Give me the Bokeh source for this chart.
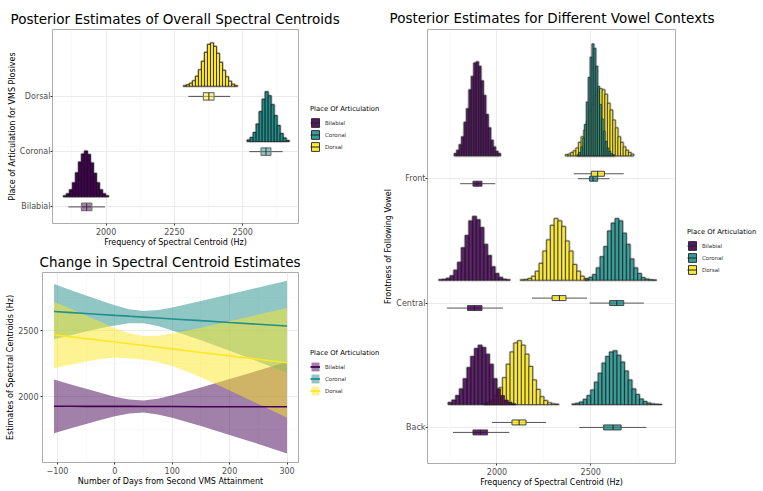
from bokeh.plotting import figure
from bokeh.models import ColumnDataSource, FixedTicker, Legend, LegendItem, Range1d, Label
from bokeh.layouts import row, column
from bokeh.embed import file_html
from bokeh.resources import INLINE

FONT = "DejaVu Sans"
places = ["Bilabial", "Coronal", "Dorsal"]
place_colors = ["#440154", "#21908C", "#FDE725"]

# ---------------- Panel 1: overall posterior (histogram heights in % of the panel's tallest bin)
overall_levels = [1, 2, 3]
overall_bilabial_start, overall_bilabial_width = 1844, 11
overall_bilabial_heights = [2, 6, 14, 28, 48, 70, 86, 92, 85, 68, 47, 28, 14, 6, 2]
overall_coronal_start, overall_coronal_width = 2516, 11
overall_coronal_heights = [3, 8, 18, 35, 60, 85, 100, 92, 74, 52, 32, 16, 7, 2]
overall_dorsal_start, overall_dorsal_width = 2283, 11
overall_dorsal_heights = [1, 3, 6, 11, 20, 33, 50, 68, 84, 87, 80, 66, 48, 32, 19, 10, 4, 1]
overall_box_low = [1862, 2524, 2301]
overall_box_q1 = [1910, 2567, 2356]
overall_box_median = [1929, 2585, 2376]
overall_box_q3 = [1948, 2603, 2395]
overall_box_high = [1996, 2646, 2454]

# ---------------- Panel 2: change over days
days = [-106, -75, -50, -25, 0, 25, 50, 75, 100, 150, 200, 250, 300]
bilabial_fit = [1927, 1927, 1926, 1926, 1926, 1926, 1925, 1925, 1925, 1924, 1924, 1923, 1923]
bilabial_lower = [1723, 1762, 1793, 1823, 1851, 1873, 1880, 1865, 1840, 1777, 1710, 1642, 1570]
bilabial_upper = [2131, 2091, 2060, 2029, 2000, 1978, 1971, 1985, 2010, 2070, 2133, 2198, 2265]
coronal_fit = [2645, 2637, 2630, 2623, 2616, 2610, 2603, 2596, 2589, 2576, 2562, 2549, 2535]
coronal_lower = [2436, 2468, 2494, 2518, 2540, 2557, 2557, 2535, 2502, 2427, 2348, 2265, 2180]
coronal_upper = [2854, 2805, 2766, 2728, 2692, 2662, 2649, 2657, 2676, 2725, 2776, 2827, 2878]
dorsal_fit = [2469, 2453, 2440, 2427, 2414, 2401, 2388, 2375, 2362, 2335, 2309, 2283, 2257]
dorsal_lower = [2216, 2243, 2266, 2286, 2296, 2290, 2282, 2262, 2232, 2147, 2047, 1944, 1840]
dorsal_upper = [2720, 2663, 2614, 2568, 2518, 2480, 2460, 2462, 2478, 2523, 2571, 2622, 2672]

# ---------------- Panel 3: vowel contexts (rows: Back=1, Central=2, Front=3)
vowel_rows = ["Back", "Central", "Front"]
back_bilabial_start, back_bilabial_width = 1740, 20
back_bilabial_heights = [1.9, 4, 8, 14, 23, 33, 43, 50, 53, 51, 45, 36, 23, 14, 8, 4, 2, 0.8]
back_coronal_start, back_coronal_width = 2400, 20
back_coronal_heights = [0.5, 1.1, 2.3, 4.6, 8, 13, 20, 28, 37, 43, 47, 48, 44, 38, 30, 22, 14, 9, 5, 2.7, 1.3, 0.6, 0.3, 0.1]
back_dorsal_start, back_dorsal_width = 1930, 20
back_dorsal_heights = [0.7, 1.8, 4, 8, 15, 24, 36, 47, 55, 57, 53, 45, 34, 22, 13.5, 7, 3.5, 1.5, 0.6, 0.3]
central_bilabial_start, central_bilabial_width = 1690, 20
central_bilabial_heights = [0.5, 0.8, 1.8, 4, 9, 16, 29, 40, 53, 57, 54, 47, 32, 22, 12, 6, 2.5, 0.9, 0.4]
central_coronal_start, central_coronal_width = 2470, 20
central_coronal_heights = [0.9, 2.5, 5, 11, 21, 30, 44, 51, 55, 53, 42, 32, 19, 11, 6, 2.3, 1, 0.4, 0.2]
central_dorsal_start, central_dorsal_width = 2125, 20
central_dorsal_heights = [0.3, 0.6, 1.5, 3.5, 8, 15, 26, 36, 49, 55, 53, 48, 35, 26, 14, 8, 3.5, 1.5]
front_bilabial_start, front_bilabial_width = 1772, 13
front_bilabial_heights = [2, 5, 10, 17, 30, 42, 59, 71, 83, 84, 80, 67, 54, 37, 25, 14, 8, 4, 2]
front_coronal_start, front_coronal_width = 2427, 10
front_coronal_heights = [1, 3, 8, 16, 28, 48, 70, 88, 100, 96, 80, 62, 46, 33, 22, 13, 7, 4, 2, 1]
front_dorsal_start, front_dorsal_width = 2365, 14
front_dorsal_heights = [1, 1.5, 3, 4.5, 7, 12, 17, 23, 31, 40, 46, 54, 57, 60, 59, 55, 47, 41, 32, 25, 17, 12, 8, 5, 3, 1.5]

bilabial_box_low = [1765, 1733, 1804]
bilabial_box_q1 = [1872, 1843, 1872]
bilabial_box_median = [1911, 1880, 1893]
bilabial_box_q3 = [1950, 1920, 1920]
bilabial_box_high = [2066, 2032, 1991]
coronal_box_low = [2439, 2494, 2432]
coronal_box_q1 = [2569, 2601, 2494]
coronal_box_median = [2619, 2639, 2512]
coronal_box_q3 = [2662, 2676, 2537]
coronal_box_high = [2797, 2783, 2600]
dorsal_box_low = [1973, 2187, 2409]
dorsal_box_q1 = [2080, 2294, 2503]
dorsal_box_median = [2118, 2333, 2537]
dorsal_box_q3 = [2155, 2368, 2573]
dorsal_box_high = [2262, 2480, 2676]

SLAB_SCALE = 0.9
SLAB_OFFSET = 0.184


def hist_data(parts):
    d = dict(left=[], right=[], bottom=[], top=[])
    for start, width, heights, level in parts:
        for i, h in enumerate(heights):
            d["left"].append(start + i * width)
            d["right"].append(start + (i + 1) * width)
            d["bottom"].append(level + SLAB_OFFSET)
            d["top"].append(level + SLAB_OFFSET + h / 100.0 * SLAB_SCALE)
    return d


def blank_fig(width, height):
    f = figure(width=width, height=height, output_backend="svg", toolbar_location=None,
               x_range=Range1d(0, width), y_range=Range1d(0, height),
               x_axis_type=None, y_axis_type=None,
               min_border_left=0, min_border_right=0, min_border_top=0, min_border_bottom=0)
    f.outline_line_color = None
    f.background_fill_color = "white"
    f.border_fill_color = "white"
    return f


def title_fig(width, height, text, x, y):
    f = blank_fig(width, height)
    f.add_layout(Label(x=x, y=y, text=text, text_font=FONT, text_font_size="13.5px",
                       text_color="black", text_align="left", text_baseline="middle"))
    return f


def legend_fig(width, height, kind, x, y):
    # key renderers sit outside the visible range, so only their legend keys show
    f = blank_fig(width, height)
    items = []
    for nm, col in zip(places, place_colors):
        if kind == "hist":
            r1 = f.quad(left=[-30], right=[-20], bottom=[-30], top=[-20], fill_color=col, fill_alpha=0.9,
                        line_color="#222222", line_width=0.9)
            r2 = f.segment(x0=[-30], x1=[-20], y0=[-25], y1=[-25], line_color="#222222", line_width=1)
        else:
            r1 = f.varea(x=[-30, -20], y1=[-30, -30], y2=[-20, -20], fill_color=col, fill_alpha=0.5)
            r2 = f.line(x=[-30, -20], y=[-25, -25], line_color=col, line_width=1.8)
        items.append(LegendItem(label=nm, renderers=[r1, r2]))
    lg = Legend(items=items, location=(x, y), title="Place Of Articulation",
                title_text_font=FONT, title_text_font_size="6.8px", title_text_font_style="normal",
                title_text_color="black", title_standoff=4,
                label_text_font=FONT, label_text_font_size="5.5px", label_text_color="#333333",
                glyph_width=10, glyph_height=11, label_height=11,
                label_width=10, label_standoff=5, spacing=1, padding=0, margin=0,
                border_line_color=None, background_fill_alpha=0)
    f.add_layout(lg)
    return f


def style_fig(p, xlabel, ylabel):
    p.background_fill_color = "white"
    p.border_fill_color = "white"
    p.outline_line_color = "#ababab"
    p.outline_line_width = 1
    for ax in (p.xaxis[0], p.yaxis[0]):
        ax.axis_line_color = None
        ax.major_tick_line_color = "#333333"
        ax.major_tick_out = 2
        ax.major_tick_in = 0
        ax.minor_tick_line_color = None
        ax.major_label_text_font = FONT
        ax.major_label_text_font_size = "8px"
        ax.major_label_text_color = "#4d4d4d"
        ax.major_label_standoff = 0
        ax.axis_label_text_font = FONT
        ax.axis_label_text_font_size = "8px"
        ax.axis_label_text_font_style = "normal"
        ax.axis_label_text_color = "black"
        ax.axis_label_standoff = 0
    p.xaxis.axis_label = xlabel
    p.yaxis.axis_label = ylabel
    for g in (p.xgrid[0], p.ygrid[0]):
        g.grid_line_color = "#ebebeb"
        g.grid_line_width = 1
        g.minor_grid_line_color = "#f5f5f5"
        g.minor_grid_line_width = 0.6


# ================= Figure 1 =================
p1 = figure(width=300, height=221, output_backend="svg", toolbar_location=None,
            x_range=Range1d(1804, 2704), y_range=Range1d(0.7, 4.21),
            min_border_left=52, min_border_right=2, min_border_top=1, min_border_bottom=21)
style_fig(p1, "Frequency of Spectral Centroid (Hz)", "Place of Articulation for VMS Plosives")
p1.xaxis.ticker = FixedTicker(ticks=[2000, 2250, 2500], minor_ticks=[1875, 2125, 2375, 2625])
p1.yaxis.ticker = FixedTicker(ticks=overall_levels)
p1.yaxis.major_label_overrides = {lv: nm for lv, nm in zip(overall_levels, places)}

overall_parts = [
    (overall_bilabial_start, overall_bilabial_width, overall_bilabial_heights),
    (overall_coronal_start, overall_coronal_width, overall_coronal_heights),
    (overall_dorsal_start, overall_dorsal_width, overall_dorsal_heights),
]
for k, (name, col) in enumerate(zip(places, place_colors)):
    st, wd, hs = overall_parts[k]
    src = ColumnDataSource(hist_data([(st, wd, hs, overall_levels[k])]))
    p1.quad(left="left", right="right", bottom="bottom", top="top", source=src,
            fill_color=None, line_color="#9a9a9a", line_width=2.6, line_alpha=0.6)
    p1.quad(left="left", right="right", bottom="bottom", top="top", source=src,
            fill_color=col, fill_alpha=1.0, line_color="#111111", line_width=0.8, line_alpha=0.9)
    lv = overall_levels[k]
    p1.segment(x0=[overall_box_low[k]], x1=[overall_box_high[k]], y0=[lv], y1=[lv],
               line_color="#4d4d4d", line_width=1)
    p1.quad(left=[overall_box_q1[k]], right=[overall_box_q3[k]], bottom=[lv - 0.068], top=[lv + 0.068],
            fill_color=col, fill_alpha=0.5, line_color="#777777", line_width=1.2)
    p1.segment(x0=[overall_box_median[k]], x1=[overall_box_median[k]], y0=[lv - 0.068], y1=[lv + 0.068],
               line_color="#333333", line_width=1)

# ================= Figure 2 =================
p2 = figure(width=300, height=217, output_backend="svg", toolbar_location=None,
            x_range=Range1d(-126, 320), y_range=Range1d(1501, 2941),
            min_border_left=42, min_border_right=2, min_border_top=1, min_border_bottom=21)
style_fig(p2, "Number of Days from Second VMS Attainment", "Estimates of Spectral Centroids (Hz)")
p2.xaxis.ticker = FixedTicker(ticks=[-100, 0, 100, 200, 300], minor_ticks=[-50, 50, 150, 250])
p2.yaxis.ticker = FixedTicker(ticks=[2000, 2500], minor_ticks=[1750, 2250, 2750])

fits = [bilabial_fit, coronal_fit, dorsal_fit]
lows = [bilabial_lower, coronal_lower, dorsal_lower]
highs = [bilabial_upper, coronal_upper, dorsal_upper]
for k, col in enumerate(place_colors):
    p2.varea(x=days, y1=lows[k], y2=highs[k], fill_color=col, fill_alpha=0.5)
for k, col in enumerate(place_colors):
    p2.line(x=days, y=fits[k], line_color=col, line_width=1.6)

# ================= Figure 3 =================
p3 = figure(width=297, height=461, output_backend="svg", toolbar_location=None,
            x_range=Range1d(1629.5, 2952), y_range=Range1d(0.71, 4.2),
            min_border_left=47, min_border_right=2, min_border_top=1, min_border_bottom=21)
style_fig(p3, "Frequency of Spectral Centroid (Hz)", "Frontness of Following Vowel")
p3.xaxis.ticker = FixedTicker(ticks=[2000, 2500], minor_ticks=[1750, 2250, 2750])
p3.yaxis.ticker = FixedTicker(ticks=[1, 2, 3])
p3.yaxis.major_label_overrides = {1: "Back", 2: "Central", 3: "Front"}

vowel_parts = {
    "Bilabial": [(back_bilabial_start, back_bilabial_width, back_bilabial_heights, 1),
                 (central_bilabial_start, central_bilabial_width, central_bilabial_heights, 2),
                 (front_bilabial_start, front_bilabial_width, front_bilabial_heights, 3)],
    "Coronal": [(back_coronal_start, back_coronal_width, back_coronal_heights, 1),
                (central_coronal_start, central_coronal_width, central_coronal_heights, 2),
                (front_coronal_start, front_coronal_width, front_coronal_heights, 3)],
    "Dorsal": [(back_dorsal_start, back_dorsal_width, back_dorsal_heights, 1),
               (central_dorsal_start, central_dorsal_width, central_dorsal_heights, 2),
               (front_dorsal_start, front_dorsal_width, front_dorsal_heights, 3)],
}
box_stats = {
    "Bilabial": (bilabial_box_low, bilabial_box_q1, bilabial_box_median, bilabial_box_q3, bilabial_box_high),
    "Coronal": (coronal_box_low, coronal_box_q1, coronal_box_median, coronal_box_q3, coronal_box_high),
    "Dorsal": (dorsal_box_low, dorsal_box_q1, dorsal_box_median, dorsal_box_q3, dorsal_box_high),
}
dodge = {"Bilabial": -0.04, "Coronal": 0.0, "Dorsal": 0.04}
color_of = dict(zip(places, place_colors))

srcs3 = {nm: ColumnDataSource(hist_data(vowel_parts[nm])) for nm in places}
for nm in ["Dorsal", "Coronal", "Bilabial"]:
    p3.quad(left="left", right="right", bottom="bottom", top="top", source=srcs3[nm],
            fill_color=None, line_color="#9a9a9a", line_width=2.6, line_alpha=0.6)
for nm in ["Dorsal", "Coronal", "Bilabial"]:
    p3.quad(left="left", right="right", bottom="bottom", top="top", source=srcs3[nm],
            fill_color=color_of[nm], fill_alpha=0.85, line_color="#1a1a1a",
            line_width=0.7, line_alpha=0.9)
for nm in places:
    lo, q1, md, q3, hi = box_stats[nm]
    ys = [lv + dodge[nm] for lv in [1, 2, 3]]
    p3.segment(x0=lo, x1=hi, y0=ys, y1=ys, line_color="#555555", line_width=1)
    p3.quad(left=q1, right=q3, bottom=[y - 0.02 for y in ys], top=[y + 0.02 for y in ys],
            fill_color=color_of[nm], fill_alpha=0.85, line_color="#444444", line_width=1)
    p3.segment(x0=md, x1=md, y0=[y - 0.02 for y in ys], y1=[y + 0.02 for y in ys],
               line_color="#222222", line_width=1)

# ================= titles and legends =================
t1 = title_fig(380, 28, "Posterior Estimates of Overall Spectral Centroids", 10, 10)
t2 = title_fig(380, 22, "Change in Spectral Centroid Estimates", 39, 10)
t3 = title_fig(382, 28, "Posterior Estimates for Different Vowel Contexts", 9, 10.5)
lg1 = legend_fig(80, 221, "hist", 10, 71)
lg2 = legend_fig(80, 217, "band", 10, 66)
lg3 = legend_fig(85, 461, "hist", 10, 188)

left_col = column(t1, row(p1, lg1), t2, row(p2, lg2))
right_col = column(t3, row(p3, lg3))
layout = row(left_col, right_col)
open("out.html", "w").write(file_html(layout, INLINE))
